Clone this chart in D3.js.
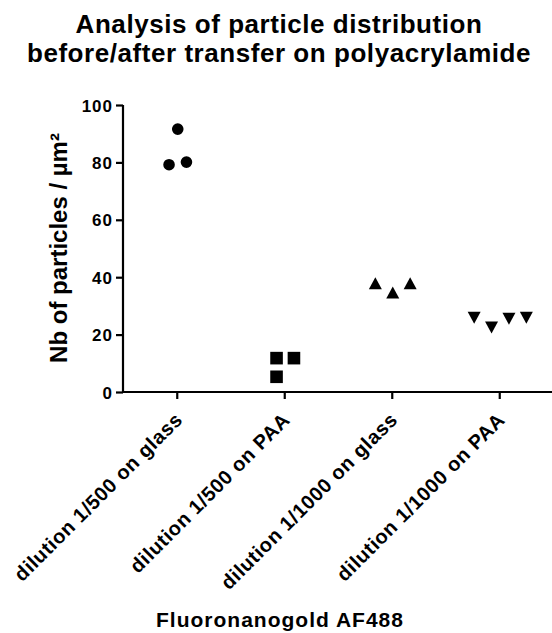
<!DOCTYPE html>
<html><head><meta charset="utf-8">
<script src="https://cdn.jsdelivr.net/npm/d3@7"></script>
<style>
body{margin:0;background:#fff}
text{font-family:"Liberation Sans",Arial,sans-serif;font-weight:bold;fill:#000}
</style>
</head><body><svg id="chart" width="552" height="633"></svg>
<script>
// Particle counts per µm² for each deposition condition
const categories = ["dilution 1/500 on glass", "dilution 1/500 on PAA", "dilution 1/1000 on glass", "dilution 1/1000 on PAA"];
const glass500 = [79.2, 91.6, 80.1];
const paa500 = [11.8, 11.8, 5.3];
const glass1000 = [37.9, 34.7, 37.9];
const paa1000 = [25.9, 22.5, 25.5, 25.9];
const yTicks = [0, 20, 40, 60, 80, 100];
const titleLines = ["Analysis of particle distribution", "before/after transfer on polyacrylamide"];
const yTitle = "Nb of particles / µm²";
const xTitle = "Fluoronanogold AF488";

const groups = [
  {name: categories[0], values: glass500, shape: "circle"},
  {name: categories[1], values: paa500, shape: "square"},
  {name: categories[2], values: glass1000, shape: "up"},
  {name: categories[3], values: paa1000, shape: "down"}
];

const svg = d3.select("#chart");
const plotLeft = 123, plotRight = 553, plotTop = 105, plotBottom = 392;

const x = d3.scalePoint().domain(categories).range([plotLeft, plotRight]).padding(0.5);
const y = d3.scaleLinear().domain([0, 100]).range([plotBottom, plotTop]);

// Title
svg.append("g").selectAll("text").data(titleLines).join("text")
  .attr("x", 279).attr("y", (d, i) => 32.5 + i * 29.5)
  .attr("text-anchor", "middle").style("font-size", "26px").style("letter-spacing", "0.55px").text(d => d);

// Y axis
const yAxis = svg.append("g").attr("transform", `translate(${plotLeft},0)`)
  .call(d3.axisLeft(y).tickValues(yTicks).tickSize(7).tickPadding(3));
// X axis
const xAxis = svg.append("g").attr("transform", `translate(0,${plotBottom})`)
  .call(d3.axisBottom(x).tickSize(7).tickFormat(""));
[yAxis, xAxis].forEach(a => {
  a.select(".domain").attr("stroke", "#000").attr("stroke-width", 2.2);
  a.selectAll(".tick line").attr("stroke", "#000").attr("stroke-width", 2.2);
});
yAxis.select(".domain").attr("d", `M0,${plotBottom + 1}V${plotTop}`);
xAxis.select(".domain").attr("d", `M${plotLeft - 1},0H${plotRight}`);
yAxis.selectAll(".tick text")
  .style("font-size", "17px").style("letter-spacing", "1px")
  .style("font-family", "'Liberation Sans',Arial,sans-serif").style("font-weight", "bold")
  .attr("fill", "#000").attr("dy", "0.36em");

// Rotated category labels
svg.append("g").selectAll("text").data(categories).join("text")
  .attr("transform", d => `translate(${x(d) + 7},${plotBottom + 29}) rotate(-45)`)
  .attr("text-anchor", "end").style("font-size", "20px").style("letter-spacing", "0.6px").text(d => d);

// Axis titles
svg.append("text").attr("transform", `translate(67,248) rotate(-90)`)
  .attr("text-anchor", "middle").style("font-size", "24px").text(yTitle);
svg.append("text").attr("x", 280).attr("y", 627)
  .attr("text-anchor", "middle").style("font-size", "21px").style("letter-spacing", "1px").text(xTitle);

// Spread overlapping points of a column into side-by-side lanes
const marker = 12.6, clusterGap = 20, laneStep = 17.4;
function lanesFor(values) {
  const idx = values.map((v, i) => i).sort((a, b) => values[a] - values[b]);
  const cluster = new Array(values.length);
  let c = 0;
  idx.forEach((k, j) => {
    if (j > 0 && Math.abs(y(values[k]) - y(values[idx[j - 1]])) >= clusterGap) c++;
    cluster[k] = c;
  });
  const offsets = new Array(values.length);
  d3.range(c + 1).forEach(ci => {
    const members = values.map((v, i) => i).filter(i => cluster[i] === ci);
    const lanes = [];
    const laneOf = {};
    members.forEach(i => {
      let l = 0;
      while (lanes[l] && lanes[l].some(k => Math.abs(y(values[k]) - y(values[i])) < marker)) l++;
      (lanes[l] = lanes[l] || []).push(i);
      laneOf[i] = l;
    });
    members.forEach(i => { offsets[i] = (laneOf[i] - (lanes.length - 1) / 2) * laneStep; });
  });
  return offsets;
}

const shapes = {
  circle: "M0,-5.8A5.8,5.8 0 1,1 0,5.8A5.8,5.8 0 1,1 0,-5.8Z",
  square: "M-6.3,-6.3H6.3V6.3H-6.3Z",
  up: "M0,-6L6.5,6H-6.5Z",
  down: "M0,6L6.5,-6H-6.5Z"
};

const pts = svg.append("g");
groups.forEach(g => {
  const off = lanesFor(g.values);
  pts.selectAll(null).data(g.values).join("path")
    .attr("d", shapes[g.shape])
    .attr("transform", (d, i) => `translate(${x(g.name) + 1 + off[i]},${y(d)})`)
    .attr("fill", "#000");
});
</script></body></html>
